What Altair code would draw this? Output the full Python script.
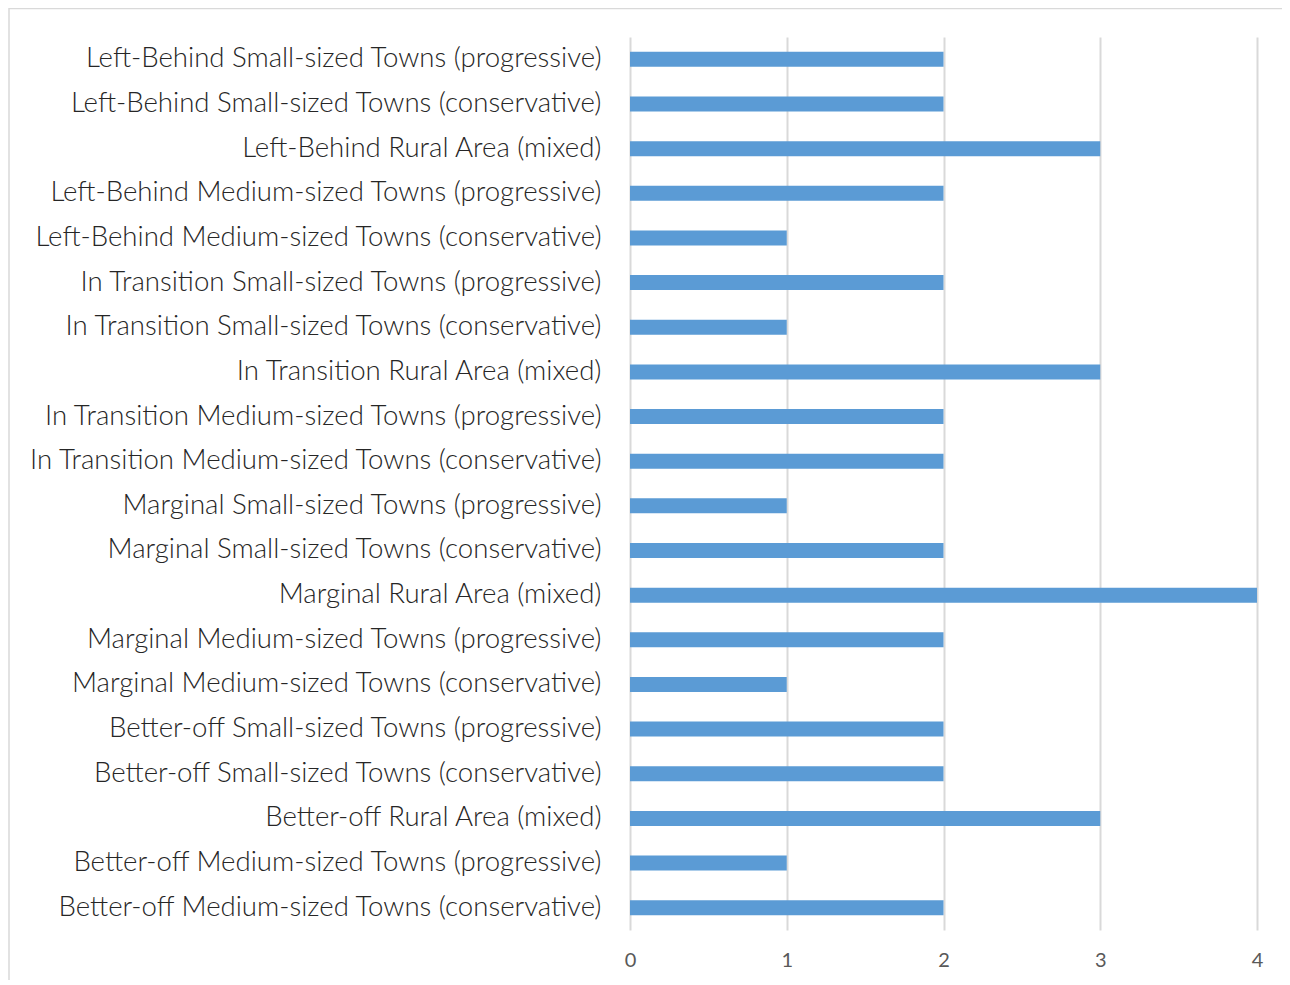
import altair as alt
import pandas as pd

categories = [
    "Left-Behind Small-sized Towns (progressive)",
    "Left-Behind Small-sized Towns (conservative)",
    "Left-Behind Rural Area (mixed)",
    "Left-Behind Medium-sized Towns (progressive)",
    "Left-Behind Medium-sized Towns (conservative)",
    "In Transition Small-sized Towns (progressive)",
    "In Transition Small-sized Towns (conservative)",
    "In Transition Rural Area (mixed)",
    "In Transition Medium-sized Towns (progressive)",
    "In Transition Medium-sized Towns (conservative)",
    "Marginal Small-sized Towns (progressive)",
    "Marginal Small-sized Towns (conservative)",
    "Marginal Rural Area (mixed)",
    "Marginal Medium-sized Towns (progressive)",
    "Marginal Medium-sized Towns (conservative)",
    "Better-off Small-sized Towns (progressive)",
    "Better-off Small-sized Towns (conservative)",
    "Better-off Rural Area (mixed)",
    "Better-off Medium-sized Towns (progressive)",
    "Better-off Medium-sized Towns (conservative)",
]
values = [2, 2, 3, 2, 1, 2, 1, 3, 2, 2, 1, 2, 4, 2, 1, 2, 2, 3, 1, 2]
x_ticks = [0, 1, 2, 3, 4]

df = pd.DataFrame({"category": categories, "value": values})

FONT = "Lato"

bars = alt.Chart(df).mark_bar(color="#5b9bd5", size=15).encode(
    x=alt.X("value:Q", scale=alt.Scale(domain=[0, 4], nice=False),
            axis=alt.Axis(values=x_ticks, title=None, grid=True, gridColor="#d9d9d9",
                          gridWidth=2, domain=False, ticks=False, labelPadding=20,
                          labelFontSize=20, labelColor="#595959", labelFont=FONT,
                          labelFlush=False, format="d")),
    y=alt.Y("category:N", sort=categories,
            axis=alt.Axis(title=None, domain=False, ticks=False, labelPadding=29,
                          labelFontSize=27.6, labelColor="#262626", labelFont=FONT,
                          labelFontWeight=300, labelLimit=700)),
)

border = alt.Chart(pd.DataFrame({"b": [0]})).mark_rect(
    fill=None, stroke="#d9d9d9", strokeWidth=1.5
).encode(
    x=alt.value(-621), x2=alt.value(700), y=alt.value(-28.5), y2=alt.value(980)
)

chart = alt.layer(border, bars).properties(
    width=627, height=893,
    autosize=alt.AutoSizeParams(type="none"),
    padding={"left": 622, "top": 29, "right": 25, "bottom": 50},
).configure(background="white").configure_view(stroke=None)

chart.save("out.html", embed_options={"renderer": "svg", "actions": False})
